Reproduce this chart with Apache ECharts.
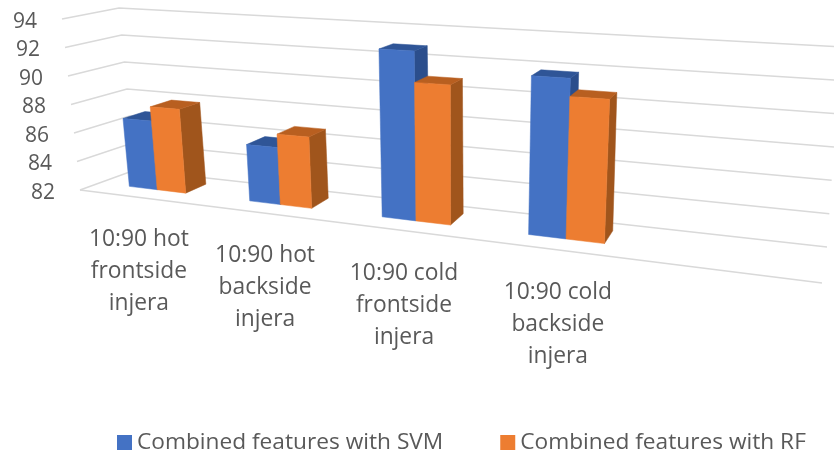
<!DOCTYPE html>
<html lang="en">
<head>
    <meta charset="utf-8">
    <title>Combined features chart</title>
    <script src="https://cdn.jsdelivr.net/npm/echarts@6/dist/echarts.min.js"></script>
    <style>
        html, body { margin: 0; padding: 0; background: #fff; }
        #main { width: 834px; height: 457px; }
    </style>
</head>
<body>
<div id="main"></div>
<script>
    // data
    var categories = ['10:90 hot\nfrontside\ninjera', '10:90 hot\nbackside\ninjera', '10:90 cold\nfrontside\ninjera', '10:90 cold\nbackside\ninjera'];
    var valueTicks = [82, 84, 86, 88, 90, 92, 94];
    var svmName = 'Combined features with SVM';
    var rfName = 'Combined features with RF';
    var svmValues = [86.8, 85.8, 92.8, 91.7];
    var rfValues = [87.8, 86.7, 90.8, 90.6];

    // box of the fake 3d plot: f = front wall, b = back wall, l/r = left/right, 0 = floor, 1 = top
    var fl0 = [80, 190], fr0 = [822, 283], fl1 = [62, 19], fr1 = [842, 58];
    var bl0 = [135, 170], br0 = [827, 247], bl1 = [119, 8], br1 = [841, 47];
    var persp = 1.29;       // how much the far left is squeezed
    var barDepth = [0.36, 0.77];
    var barWidth = 0.24;    // part of a category band
    var font = '"Open Sans", sans-serif';
    var textColor = '#595959';

    function mix(a, b, k) {
        return [a[0] + (b[0] - a[0]) * k, a[1] + (b[1] - a[1]) * k];
    }

    // t, v are 0..1 inside the cartesian grid, d is depth 0..1
    function project(t, d, v) {
        var s = t / (t + persp * (1 - t));
        var front = mix(mix(fl0, fr0, s), mix(fl1, fr1, s), v);
        var back = mix(mix(bl0, br0, s), mix(bl1, br1, s), v);
        return mix(front, back, d);
    }

    function gridT(params, x) {
        return (x - params.coordSys.x) / params.coordSys.width;
    }

    function gridV(params, y) {
        return (params.coordSys.y + params.coordSys.height - y) / params.coordSys.height;
    }

    function poly(points, color) {
        return { type: 'polygon', shape: { points: points }, style: { fill: color, stroke: color, lineWidth: 0.5 } };
    }

    function barRenderer(frontColor, topColor, sideColor, index) {
        return function (params, api) {
            var p = api.coord([api.value(0), api.value(1)]);
            var band = api.size([1, 0])[0];
            var t0 = gridT(params, p[0] + (index - 1) * barWidth * band);
            var t1 = gridT(params, p[0] + index * barWidth * band);
            var v = gridV(params, p[1]);
            var d0 = barDepth[0], d1 = barDepth[1];
            return {
                type: 'group',
                children: [
                    poly([project(t1, d0, 0), project(t1, d1, 0), project(t1, d1, v), project(t1, d0, v)], sideColor),
                    poly([project(t0, d0, v), project(t1, d0, v), project(t1, d1, v), project(t0, d1, v)], topColor),
                    poly([project(t0, d0, 0), project(t1, d0, 0), project(t1, d0, v), project(t0, d0, v)], frontColor)
                ]
            };
        };
    }

    function renderGridLine(params, api) {
        var tick = api.value(1);
        var v = gridV(params, api.coord([0, tick])[1]);
        var line = { stroke: '#D9D9D9', lineWidth: 1.5, fill: null };
        var children = [
            { type: 'polyline', shape: { points: [project(0, 0, v), project(0, 1, v), project(1, 1, v)] }, style: line }
        ];
        if (tick === valueTicks[0]) {
            children.push({ type: 'polyline', shape: { points: [project(0, 0, v), project(1, 0, v)] }, style: line });
        }
        var start = project(0, 0, v);
        children.push({
            type: 'text',
            x: start[0] - 25,
            y: start[1] + 3,
            style: { text: String(tick), fill: textColor, font: '21px ' + font, textAlign: 'right', textVerticalAlign: 'middle' }
        });
        return { type: 'group', children: children };
    }

    function renderCategoryLabel(params, api) {
        var i = api.value(0);
        var p = api.coord([i, valueTicks[0]]);
        var foot = project(gridT(params, p[0]), 0, 0);
        return {
            type: 'text',
            x: foot[0],
            y: foot[1] + 26.5,
            style: {
                text: categories[i],
                fill: textColor,
                font: '22.8px ' + font,
                lineHeight: 32,
                textAlign: 'center',
                textVerticalAlign: 'top'
            }
        };
    }

    function pairs(values) {
        return values.map(function (value, i) { return [i, value]; });
    }

    var myChart = echarts.init(document.getElementById('main'));
    var option = {
        animation: false,
        backgroundColor: '#fff',
        grid: { left: 80, right: 20, top: 10, bottom: 100 },
        xAxis: { type: 'category', data: categories.concat(['']), show: false },
        yAxis: { type: 'value', min: valueTicks[0], max: valueTicks[valueTicks.length - 1], interval: 2, show: false },
        legend: {
            data: [svmName, rfName],
            left: 112,
            top: 426,
            icon: 'rect',
            itemWidth: 15,
            itemHeight: 15,
            itemGap: 57,
            textStyle: { color: textColor, fontFamily: font, fontSize: 22.7 }
        },
        series: [
            {
                type: 'custom',
                name: 'grid lines',
                silent: true,
                renderItem: renderGridLine,
                data: valueTicks.map(function (tick) { return [0, tick]; }),
                encode: { x: 0, y: 1 }
            },
            {
                type: 'custom',
                name: 'category labels',
                silent: true,
                renderItem: renderCategoryLabel,
                data: pairs(categories.map(function () { return valueTicks[0]; })),
                encode: { x: 0, y: 1 }
            },
            {
                type: 'custom',
                name: svmName,
                itemStyle: { color: '#4472C4' },
                renderItem: barRenderer('#4472C4', '#2F5597', '#2B4E8C', 0),
                data: pairs(svmValues),
                encode: { x: 0, y: 1 }
            },
            {
                type: 'custom',
                name: rfName,
                itemStyle: { color: '#ED7D31' },
                renderItem: barRenderer('#ED7D31', '#B85F20', '#A0551C', 1),
                data: pairs(rfValues),
                encode: { x: 0, y: 1 }
            }
        ]
    };
    myChart.setOption(option);
</script>
</body>
</html>
